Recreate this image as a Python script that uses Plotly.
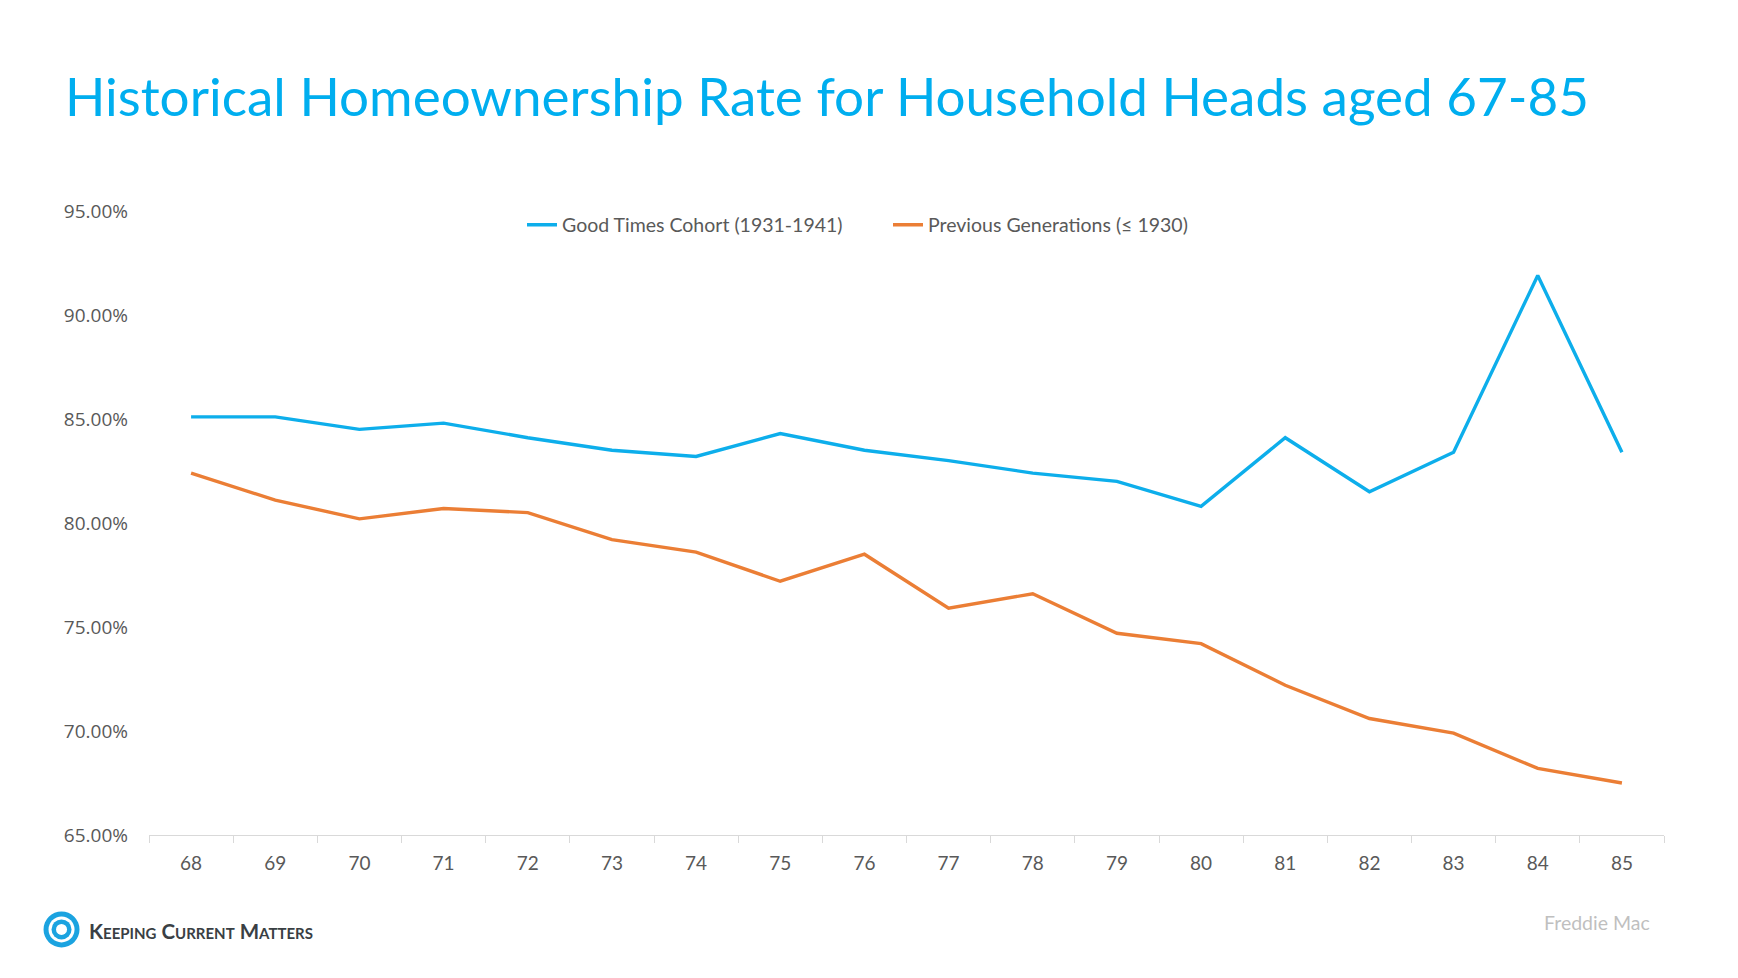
import plotly.graph_objects as go

ages = [68, 69, 70, 71, 72, 73, 74, 75, 76, 77, 78, 79, 80, 81, 82, 83, 84, 85]
age_labels = [str(a) for a in ages]
good_times = [85.1, 85.1, 84.5, 84.8, 84.1, 83.5, 83.2, 84.3, 83.5, 83.0, 82.4, 82.0, 80.8, 84.1, 81.5, 83.4, 91.9, 83.4]
previous_gen = [82.4, 81.1, 80.2, 80.7, 80.5, 79.2, 78.6, 77.2, 78.5, 75.9, 76.6, 74.7, 74.2, 72.2, 70.6, 69.9, 68.2, 67.5]
series_names = ["Good Times Cohort (1931-1941)", "Previous Generations (≤ 1930)"]
y_ticks = [65, 70, 75, 80, 85, 90, 95]
y_tick_text = [f"{v:.2f}%" for v in y_ticks]

BLUE = "#0DAEEB"
ORANGE = "#EB7E35"
GREY = "#595959"

# page body has an 8px margin, so the figure is sized to fill the rest of the window
W, H = 1730, 970
L, R, T, B = 140.5, 74, 202.6, 143.4
PW, PH = W - L - R, H - T - B


def px_to_paper(x, y):
    return (x - L) / PW, (H - B - y) / PH


fig = go.Figure()
fig.add_trace(go.Scatter(x=age_labels, y=good_times, mode="lines", name=series_names[0],
                         line=dict(color=BLUE, width=3.4)))
fig.add_trace(go.Scatter(x=age_labels, y=previous_gen, mode="lines", name=series_names[1],
                         line=dict(color=ORANGE, width=3.4)))

fig.update_layout(
    width=W, height=H,
    margin=dict(l=L, r=R, t=T, b=B, pad=0, autoexpand=False),
    paper_bgcolor="white", plot_bgcolor="white",
    font=dict(family="Lato", color=GREY),
    showlegend=True,
    legend=dict(orientation="h", xref="container", yref="container",
                x=514 / W, y=1 - 217 / H, xanchor="left", yanchor="middle",
                font=dict(family="Lato", size=19.5, color=GREY),
                entrywidthmode="pixels", entrywidth=321,
                itemwidth=30, tracegroupgap=0, bgcolor="rgba(0,0,0,0)"),
    xaxis=dict(type="category", range=[-0.5, len(ages) - 0.5], showgrid=False, zeroline=False,
               showline=True, linecolor="#D9D9D9", linewidth=1,
               ticks="outside", tickson="boundaries", ticklen=7, tickcolor="#D9D9D9",
               tickfont=dict(family="Lato", size=19, color=GREY),
               ticklabelstandoff=11, fixedrange=True, automargin=False),
    yaxis=dict(range=[65, 95], tickvals=y_ticks, ticktext=y_tick_text,
               showgrid=False, zeroline=False, showline=False, ticks="",
               tickfont=dict(family="Open Sans", size=19, color=GREY),
               ticklabelstandoff=20, fixedrange=True, automargin=False),
    title=dict(
        text="Historical Homeownership Rate for Household Heads aged 67-85",
        xref="container", yref="container", x=57 / W, y=1 - 89 / H,
        xanchor="left", yanchor="middle",
        font=dict(family="Lato", size=53, color="#00AEEF")),
)

# Source
sx, sy = px_to_paper(1643.5, 914)
fig.add_annotation(xref="paper", yref="paper", x=sx, y=sy,
                   xanchor="right", yanchor="middle", showarrow=False,
                   text="Freddie Mac", font=dict(family="Lato", size=19.5, color="#BFBFBF"))

# Logo text (small caps)
sc = "<span style='font-size:15px'>{}</span>"
logo_text = "K" + sc.format("EEPING") + " C" + sc.format("URRENT") + " M" + sc.format("ATTERS")
lx, ly = px_to_paper(78, 923)
fig.add_annotation(xref="paper", yref="paper", x=lx, y=ly,
                   xanchor="left", yanchor="middle", showarrow=False,
                   text="<b>" + logo_text + "</b>", font=dict(family="Lato", size=20.5, color="#3A3F44"))

# Logo swirl icon (decorative)
cx, cy = 53, 921
for r, col in [(18, "#1BA3E0"), (13, "white"), (10, "#1BA3E0"), (5.5, "white")]:
    x0, y0 = px_to_paper(cx - r, cy + r)
    x1, y1 = px_to_paper(cx + r, cy - r)
    fig.add_shape(type="circle", xref="paper", yref="paper", x0=x0, y0=y0, x1=x1, y1=y1,
                  fillcolor=col, line=dict(width=0), layer="above")

fig.write_html("out.html")
